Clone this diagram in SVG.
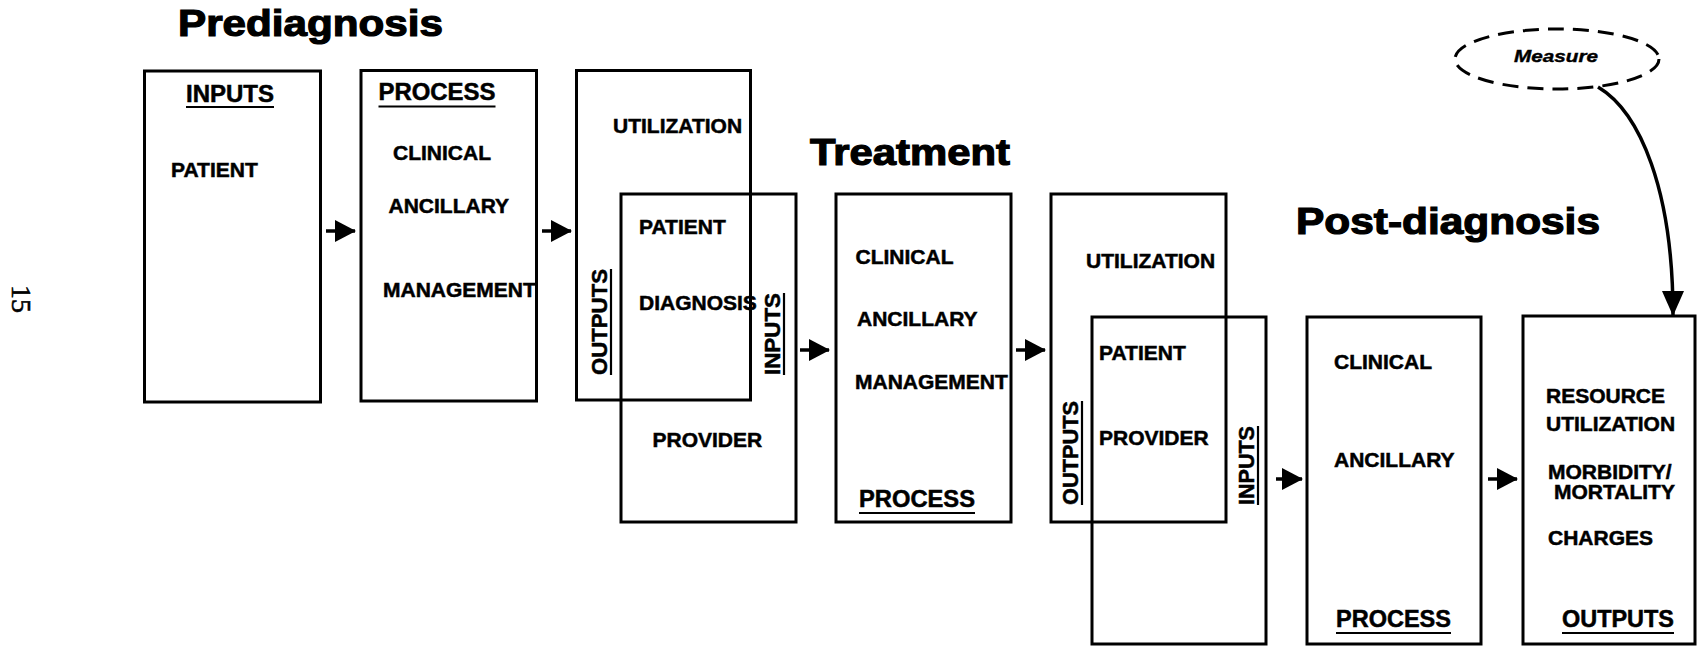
<svg xmlns="http://www.w3.org/2000/svg" width="1698" height="646" viewBox="0 0 1698 646">
  <style>
    .box { fill: none; stroke: #000; stroke-width: 3; }
    .t { font-family: "Liberation Sans", Arial, Helvetica, sans-serif; font-weight: bold; font-size: 21px; fill: #000; stroke: #000; stroke-width: 0.5; }
    .hd { font-family: "Liberation Sans", Arial, Helvetica, sans-serif; font-weight: bold; font-size: 23px; fill: #000; stroke: #000; stroke-width: 0.5; }
    .vhd { font-family: "Liberation Sans", Arial, Helvetica, sans-serif; font-weight: bold; font-size: 22px; fill: #000; stroke: #000; stroke-width: 0.5; }
    .title { font-family: "Liberation Sans", Arial, Helvetica, sans-serif; font-weight: bold; font-size: 37px; fill: #000; stroke: #000; stroke-width: 1.2; }
    .ul { stroke: #000; stroke-width: 2.2; }
    .conn { fill: none; stroke: #000; stroke-width: 3.5; }
  </style>
  <defs>
    <marker id="head" markerUnits="userSpaceOnUse" markerWidth="22" markerHeight="24" refX="20" refY="11" orient="auto">
      <path d="M0,0 L21,11 L0,22 z" fill="#000"/>
    </marker>
    <marker id="head-lg" markerUnits="userSpaceOnUse" markerWidth="26" markerHeight="24" refX="24" refY="11" orient="auto">
      <path d="M0,0 L25,11 L0,22 z" fill="#000"/>
    </marker>
  </defs>

  <rect width="1698" height="646" fill="#fff"/>

  <!-- page number -->
  <text x="0" y="0" transform="translate(12,299) rotate(90)" text-anchor="middle" font-family="'Liberation Serif', 'Times New Roman', serif" font-size="28" fill="#000" stroke="#000" stroke-width="0.6">15</text>

  <!-- stage titles -->
  <g id="title-prediagnosis"><text class="title" x="178" y="36" textLength="265" lengthAdjust="spacingAndGlyphs">Prediagnosis</text></g>
  <g id="title-treatment"><text class="title" x="810" y="165" textLength="200" lengthAdjust="spacingAndGlyphs">Treatment</text></g>
  <g id="title-postdiagnosis"><text class="title" x="1296" y="233.5" textLength="304" lengthAdjust="spacingAndGlyphs">Post-diagnosis</text></g>

  <!-- Prediagnosis: inputs -->
  <g id="pre-inputs">
    <rect class="box" x="144.5" y="71" width="176" height="331"/>
    <text class="hd" x="186" y="102" textLength="88" lengthAdjust="spacingAndGlyphs">INPUTS</text>
    <line class="ul" x1="186" y1="107" x2="274" y2="107"/>
    <text class="t" x="171" y="177">PATIENT</text>
  </g>

  <!-- Prediagnosis: process -->
  <g id="pre-process">
    <rect class="box" x="361" y="70.5" width="175.5" height="330.5"/>
    <text class="hd" x="378.5" y="100" textLength="117" lengthAdjust="spacingAndGlyphs">PROCESS</text>
    <line class="ul" x1="378.5" y1="106.5" x2="495.5" y2="106.5"/>
    <text class="t" x="393" y="160">CLINICAL</text>
    <text class="t" x="388.5" y="213">ANCILLARY</text>
    <text class="t" x="383" y="296.5">MANAGEMENT</text>
  </g>

  <!-- Prediagnosis: outputs -->
  <g id="pre-outputs">
    <rect class="box" x="576.5" y="70.5" width="174" height="329.5"/>
    <text class="t" x="613" y="132.5">UTILIZATION</text>
    <text class="vhd" x="0" y="0" transform="translate(607,375) rotate(-90)" textLength="106" lengthAdjust="spacingAndGlyphs">OUTPUTS</text>
    <line class="ul" x1="611" y1="375" x2="611" y2="269"/>
  </g>

  <!-- Treatment: inputs -->
  <g id="treat-inputs">
    <rect class="box" x="621" y="194" width="175" height="328"/>
    <text class="t" x="639" y="234">PATIENT</text>
    <text class="t" x="639" y="309.5">DIAGNOSIS</text>
    <text class="t" x="652.5" y="447">PROVIDER</text>
    <text class="vhd" x="0" y="0" transform="translate(780,375) rotate(-90)" textLength="82" lengthAdjust="spacingAndGlyphs">INPUTS</text>
    <line class="ul" x1="784" y1="375" x2="784" y2="293"/>
  </g>

  <!-- Treatment: process -->
  <g id="treat-process">
    <rect class="box" x="836" y="194" width="175" height="328"/>
    <text class="t" x="855.5" y="263.5">CLINICAL</text>
    <text class="t" x="857" y="325.5">ANCILLARY</text>
    <text class="t" x="855" y="388.5">MANAGEMENT</text>
    <text class="hd" x="859" y="507" textLength="116" lengthAdjust="spacingAndGlyphs">PROCESS</text>
    <line class="ul" x1="859" y1="513" x2="975" y2="513"/>
  </g>

  <!-- Treatment: outputs -->
  <g id="treat-outputs">
    <rect class="box" x="1051" y="194" width="175" height="328"/>
    <text class="t" x="1086" y="267.5">UTILIZATION</text>
    <text class="vhd" x="0" y="0" transform="translate(1078,505) rotate(-90)" textLength="104" lengthAdjust="spacingAndGlyphs">OUTPUTS</text>
    <line class="ul" x1="1082" y1="505" x2="1082" y2="401"/>
  </g>

  <!-- Post-diagnosis: inputs -->
  <g id="post-inputs">
    <rect class="box" x="1092" y="317" width="174" height="327"/>
    <text class="t" x="1099" y="360">PATIENT</text>
    <text class="t" x="1099" y="445">PROVIDER</text>
    <text class="vhd" x="0" y="0" transform="translate(1254,505) rotate(-90)" textLength="79" lengthAdjust="spacingAndGlyphs">INPUTS</text>
    <line class="ul" x1="1258" y1="505" x2="1258" y2="426"/>
  </g>

  <!-- Post-diagnosis: process -->
  <g id="post-process">
    <rect class="box" x="1307" y="317" width="174" height="327"/>
    <text class="t" x="1334" y="368.5">CLINICAL</text>
    <text class="t" x="1334" y="466.5">ANCILLARY</text>
    <text class="hd" x="1336" y="627" textLength="115" lengthAdjust="spacingAndGlyphs">PROCESS</text>
    <line class="ul" x1="1336" y1="633" x2="1451" y2="633"/>
  </g>

  <!-- Post-diagnosis: outputs -->
  <g id="post-outputs">
    <rect class="box" x="1523" y="316" width="172" height="328"/>
    <text class="t" x="1546" y="403">RESOURCE</text>
    <text class="t" x="1546" y="431">UTILIZATION</text>
    <text class="t" x="1548" y="478.5">MORBIDITY/</text>
    <text class="t" x="1554" y="498.5">MORTALITY</text>
    <text class="t" x="1548" y="545">CHARGES</text>
    <text class="hd" x="1562" y="627" textLength="112" lengthAdjust="spacingAndGlyphs">OUTPUTS</text>
    <line class="ul" x1="1562" y1="633" x2="1674" y2="633"/>
  </g>

  <!-- Measure -->
  <g id="measure">
    <ellipse cx="1557" cy="59" rx="102" ry="30" fill="none" stroke="#000" stroke-width="3" stroke-dasharray="16 9"/>
    <text x="1514" y="62" font-family="'Liberation Sans', Arial, sans-serif" font-weight="bold" font-style="italic" font-size="17" textLength="84" lengthAdjust="spacingAndGlyphs" fill="#000" stroke="#000" stroke-width="0.4">Measure</text>
  </g>

  <!-- connectors -->
  <g id="connectors">
    <line class="conn" x1="326" y1="231" x2="355" y2="231" marker-end="url(#head)"/>
    <line class="conn" x1="542" y1="231" x2="571" y2="231" marker-end="url(#head)"/>
    <line class="conn" x1="800" y1="350" x2="829" y2="350" marker-end="url(#head)"/>
    <line class="conn" x1="1016" y1="350" x2="1045" y2="350" marker-end="url(#head)"/>
    <line class="conn" x1="1276" y1="479" x2="1302" y2="479" marker-end="url(#head)"/>
    <line class="conn" x1="1488" y1="479" x2="1517" y2="479" marker-end="url(#head)"/>
    <path class="conn" d="M1598,87 C1640,112 1673,190 1673,315" stroke-width="3" marker-end="url(#head-lg)"/>
  </g>
</svg>
